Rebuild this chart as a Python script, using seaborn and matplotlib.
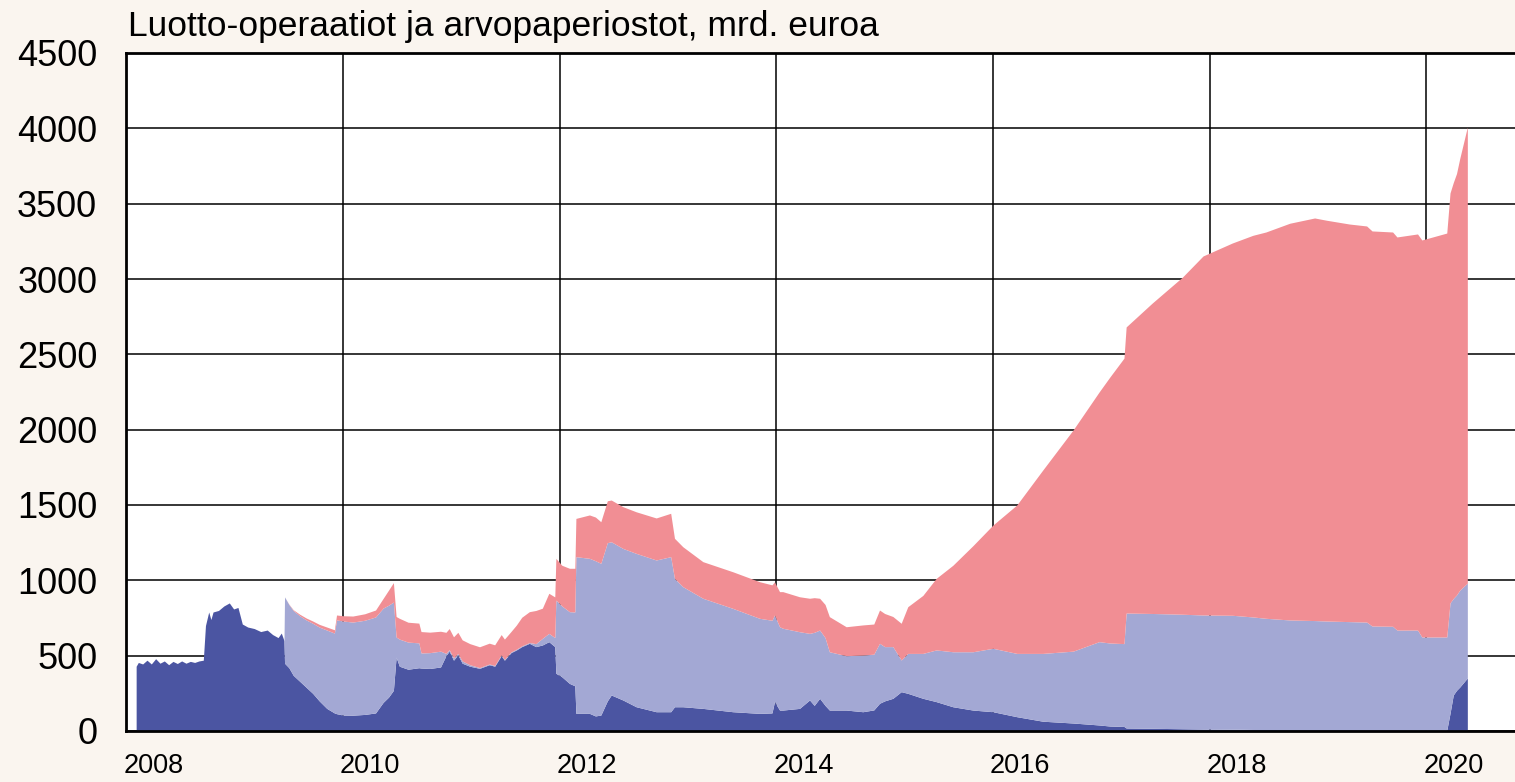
import matplotlib

matplotlib.use("Agg")

import matplotlib.pyplot as plt
import matplotlib.transforms as mtransforms
import numpy as np
import seaborn as sns

# decimal years of the readings
t = [
    2008.09, 2008.11, 2008.15, 2008.19, 2008.23, 2008.27, 2008.31, 2008.35, 2008.39,
    2008.43, 2008.47, 2008.51, 2008.55, 2008.59, 2008.63, 2008.67, 2008.71, 2008.73,
    2008.76, 2008.78, 2008.80, 2008.85, 2008.90, 2008.95, 2008.99,
    2009.03, 2009.07, 2009.12, 2009.18, 2009.24, 2009.30, 2009.35, 2009.40, 2009.43,
    2009.455, 2009.46, 2009.50, 2009.54, 2009.60, 2009.66, 2009.72, 2009.78, 2009.85,
    2009.92, 2009.94,
    2010.00, 2010.09, 2010.20, 2010.30, 2010.37, 2010.42, 2010.465, 2010.49, 2010.52,
    2010.60, 2010.70, 2010.72, 2010.80, 2010.90, 2010.95, 2010.98,
    2011.02, 2011.06, 2011.10, 2011.17, 2011.26, 2011.35, 2011.40, 2011.46, 2011.49,
    2011.55, 2011.60, 2011.65, 2011.72, 2011.78, 2011.84, 2011.90, 2011.955, 2011.965,
    2012.02, 2012.09, 2012.14, 2012.15, 2012.275, 2012.33, 2012.38, 2012.44, 2012.476,
    2012.583, 2012.706, 2012.891,
    2013.025, 2013.06, 2013.137, 2013.322, 2013.598, 2013.845, 2013.96, 2013.983,
    2014.03, 2014.06, 2014.214, 2014.307, 2014.35, 2014.40, 2014.45, 2014.49, 2014.645,
    2014.799, 2014.90, 2014.953,
    2015.00, 2015.076, 2015.153, 2015.214, 2015.353, 2015.476, 2015.63, 2015.815,
    2016.00, 2016.22, 2016.46, 2016.74, 2016.98,
    2017.08, 2017.21, 2017.23, 2017.47, 2017.75, 2017.94,
    2018.21, 2018.40, 2018.52, 2018.74, 2018.97,
    2019.08, 2019.29, 2019.45, 2019.50, 2019.69, 2019.73, 2019.92, 2019.96,
    2020.06, 2020.19, 2020.22, 2020.25, 2020.28, 2020.31, 2020.38,
]

# main refinancing operations (dark blue)
mro = [
    430, 455, 445, 470, 445, 480, 450, 465, 440,
    462, 448, 465, 450, 462, 455, 465, 470, 700,
    790, 740, 790, 800, 830, 850, 810,
    820, 710, 690, 680, 660, 670, 640, 620, 650,
    600, 450, 420, 370, 330, 290, 250, 200, 150,
    120, 115,
    106, 105, 110, 120, 190, 225, 270, 490, 430,
    410, 420, 418, 415, 425, 500, 530,
    470, 505, 450, 430, 416, 440, 430, 500, 470,
    520, 538, 560, 582, 560, 571, 593, 560, 383,
    360, 316, 300, 117, 117, 100, 106, 200, 239,
    206, 161, 128,
    128, 161, 161, 150, 128, 117, 120, 195,
    139, 139, 150, 206, 170, 217, 170, 139, 139,
    128, 140, 184,
    200, 217, 261, 250, 217, 195, 161, 139,
    128, 95, 65, 53, 40,
    33, 30, 20, 18, 15, 13,
    12, 10, 10, 8, 7,
    7, 7, 6, 6, 6, 6, 5, 5,
    5, 5, 117, 239, 270, 292, 352,
]

# longer-term refinancing operations (light blue)
ltro = [
    0, 0, 0, 0, 0, 0, 0, 0, 0,
    0, 0, 0, 0, 0, 0, 0, 0, 0,
    0, 0, 0, 0, 0, 0, 0,
    0, 0, 0, 0, 0, 0, 0, 0, 0,
    0, 440, 420, 430, 435, 447, 465, 490, 520,
    530, 622,
    624, 618, 625, 637, 626, 610, 586, 134, 180,
    180, 165, 100, 105, 105, 15, 10,
    15, 10, 15, 10, 5, 5, 5, 5, 5,
    5, 5, 5, 5, 20, 44, 55, 60, 486,
    470, 476, 490, 1040, 1029, 1030, 1007, 1050, 1017,
    1006, 1018, 1007,
    1029, 852, 797, 731, 686, 631, 615, 575,
    553, 543, 509, 442, 485, 453, 450, 387, 361,
    376, 370, 398,
    360, 343, 210, 265, 298, 343, 365, 387,
    421, 420, 450, 477, 553,
    551, 550, 763, 762, 760, 757,
    756, 747, 738, 729, 726,
    723, 719, 717, 691, 689, 664, 665, 619,
    619, 619, 733, 641, 633, 643, 630,
]

# securities held for monetary policy purposes (pink)
securities = [
    0, 0, 0, 0, 0, 0, 0, 0, 0,
    0, 0, 0, 0, 0, 0, 0, 0, 0,
    0, 0, 0, 0, 0, 0, 0,
    0, 0, 0, 0, 0, 0, 0, 0, 0,
    0, 0, 2, 5, 10, 13, 15, 18, 20,
    22, 33,
    35, 40, 43, 46, 64, 100, 129, 136, 138,
    132, 131, 142, 136, 132, 140, 140,
    140, 140, 140, 140, 138, 138, 137, 135, 135,
    135, 160, 190, 205, 220, 200, 266, 270, 277,
    270, 288, 290, 254, 288, 290, 276, 278, 277,
    277, 276, 279,
    288, 266, 265, 243, 243, 243, 235, 220,
    233, 243, 232, 233, 230, 211, 220, 233, 192,
    200, 200, 221,
    220, 200, 244, 310, 385, 475, 574, 704,
    818, 985, 1217, 1468, 1657,
    1766, 1895, 1899, 2060, 2238, 2383,
    2471, 2533, 2564, 2633, 2672,
    2660, 2639, 2629, 2622, 2617, 2609, 2629, 2635,
    2655, 2681, 2721, 2760, 2797, 2865, 3027,
]

title = "Luotto-operaatiot ja arvopaperiostot, mrd. euroa"
y_ticks = [0, 500, 1000, 1500, 2000, 2500, 3000, 3500, 4000, 4500]
label_years = [2008, 2010, 2012, 2014, 2016, 2018, 2020]
odd_years = [2009, 2011, 2013, 2015, 2017, 2019]

assert len(t) == len(mro) == len(ltro) == len(securities)

sns.set_theme(style="white")
plt.rcParams["font.family"] = ["Liberation Sans", "DejaVu Sans"]

bg = "#faf5ef"
colors = sns.color_palette(["#4b55a2", "#a3a8d4", "#f18e94"])

fig = plt.figure(figsize=(15.15, 7.82), dpi=100, facecolor=bg)
ax = fig.add_axes([126.4 / 1515, 1 - 731 / 782, 1 - 126.4 / 1515, (731 - 53) / 782])
ax.set_facecolor("white")

ax.stackplot(
    np.array(t),
    np.array(mro),
    np.array(ltro),
    np.array(securities),
    colors=colors,
    linewidth=0,
    zorder=2,
)

ax.set_xlim(2008.0, 2020.82)
ax.set_ylim(0, 4500)
ax.set_yticks(y_ticks)
ax.set_xticks(label_years)
ax.set_xticks(odd_years, minor=True)
ax.set_xticklabels([str(y) for y in label_years])

ax.set_axisbelow(True)
ax.grid(True, axis="both", which="major", color="black", linewidth=1.1)

for side in ["left", "bottom", "top"]:
    ax.spines[side].set_visible(True)
    ax.spines[side].set_color("black")
    ax.spines[side].set_linewidth(2.0)
    ax.spines[side].set_zorder(5)
ax.spines["right"].set_visible(False)

ax.tick_params(axis="y", length=0, pad=21, labelsize=26, colors="black")
ax.tick_params(
    axis="x", which="both", direction="in", length=5.5, width=1.3,
    color="black", pad=16, labelsize=19.5, labelcolor="black",
)

shift = mtransforms.ScaledTranslation(-3 / 100, 0, fig.dpi_scale_trans)
for lab in ax.get_xticklabels():
    lab.set_horizontalalignment("left")
    lab.set_transform(lab.get_transform() + shift)

fig.text(128 / 1515, 1 - 36 / 782, title, fontsize=25.5, color="black",
         ha="left", va="baseline")

fig.savefig("out.png", dpi=100, facecolor=bg)
plt.close(fig)
